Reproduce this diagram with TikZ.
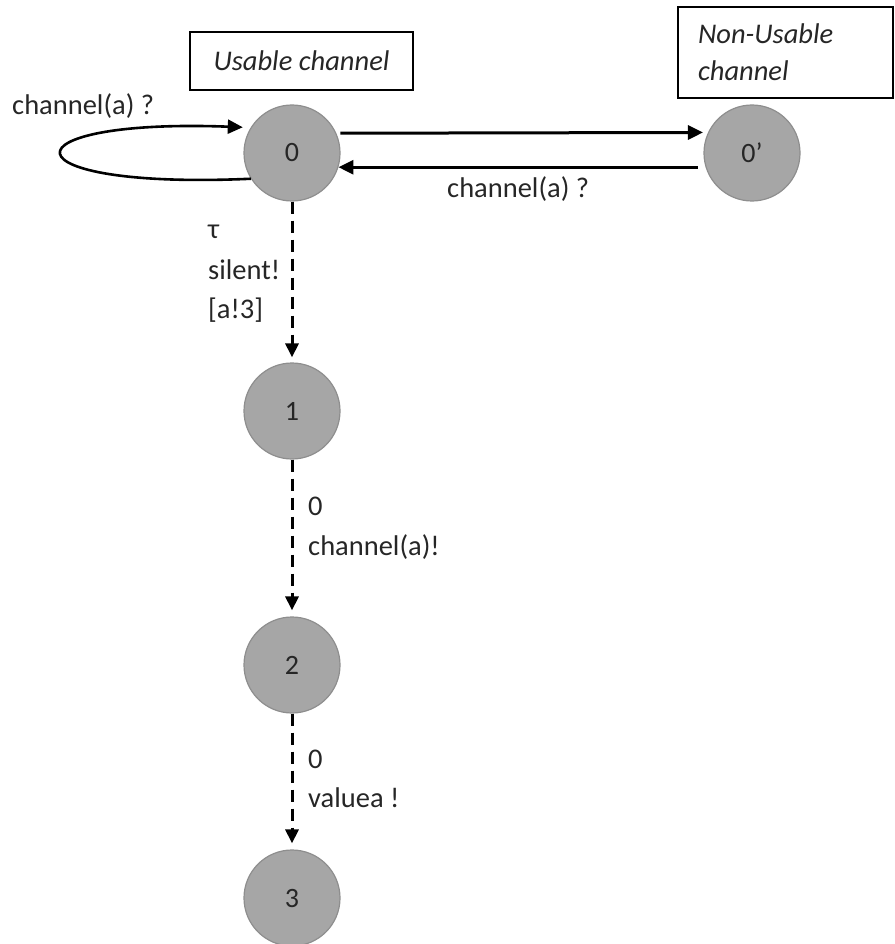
\documentclass[tikz,border=0pt]{standalone}
\usepackage{fontspec}
\setmainfont{Carlito}
\usetikzlibrary{arrows.meta}
\definecolor{stategray}{HTML}{A6A6A6}
\definecolor{stateedge}{HTML}{8E8E8E}
\definecolor{inktext}{HTML}{262626}
\begin{document}
\begin{tikzpicture}[x=1pt,y=-1pt,
  state/.style={circle, fill=stategray, draw=stateedge, line width=1.2pt,
    minimum size=96pt, inner sep=0pt, font=\fontsize{28}{32}\selectfont, text=inktext},
  lbl/.style={anchor=base west, inner sep=0pt, font=\fontsize{28.5}{34}\selectfont, text=inktext},
  tagbox/.style={draw=black, line width=1.3pt, inner sep=0pt,
    font=\fontsize{28.5}{37}\selectfont\itshape, text=inktext},
  solidarr/.style={line width=3pt, -{Triangle[length=15pt,width=14pt]}},
  dasharr/.style={line width=3pt, dash pattern=on 12pt off 7pt,
    -{Triangle[length=14pt,width=13pt]}}
]
\useasboundingbox (0,0) rectangle (894,944);

% states
\node[state] (n0)  at (292,153) {0};
\node[state] (n0p) at (752,153) {0’};
\node[state] (n1)  at (292,411) {1};
\node[state] (n2)  at (292,665) {2};
\node[state] (n3)  at (292,898) {3};

% captions above the two top states
\node[tagbox, minimum width=223pt, minimum height=58pt] (tagU) at (301.5,61) {Usable channel};
\node[tagbox, minimum width=215pt, minimum height=91pt, text width=175pt, align=left]
  (tagN) at (785.5,52.5) {Non-Usable\\channel};

% transitions between 0 and 0'
\draw[solidarr, shorten <=4pt, shorten >=5pt] (n0.24.6) -- (n0p.155.4);
\draw[solidarr, shorten <=8pt] (n0p.197) -- (n0.-17);
\node[lbl] (lbBack) at (447,197) {channel(a) ?};

% self loop on 0
\coordinate (loopEnd) at ([xshift=-8pt]n0.148);
\draw[solidarr, line width=2.6pt] (n0.212) .. controls (0,190) and (0,118) .. (loopEnd);
\node[lbl] (lbLoop) at (12,115) {channel(a) ?};

% silent step 0 -> 1
\draw[dasharr, shorten >=5pt] (n0.south) -- (n1.north);
\node[lbl] (lbA1) at (208,238) {τ};
\node[lbl] (lbA2) at (208,279) {silent!};
\node[lbl] (lbA3) at (208,318) {[a!3]};

% 1 -> 2
\draw[dasharr, shorten >=6pt] (n1.south) -- (n2.north);
\node[lbl] (lbB1) at (308,515) {0};
\node[lbl] (lbB2) at (308,555) {channel(a)!};

% 2 -> 3
\draw[dasharr, shorten >=6pt] (n2.south) -- (n3.north);
\node[lbl] (lbC1) at (308,768) {0};
\node[lbl] (lbC2) at (308,807) {valuea !};
\end{tikzpicture}
\end{document}
